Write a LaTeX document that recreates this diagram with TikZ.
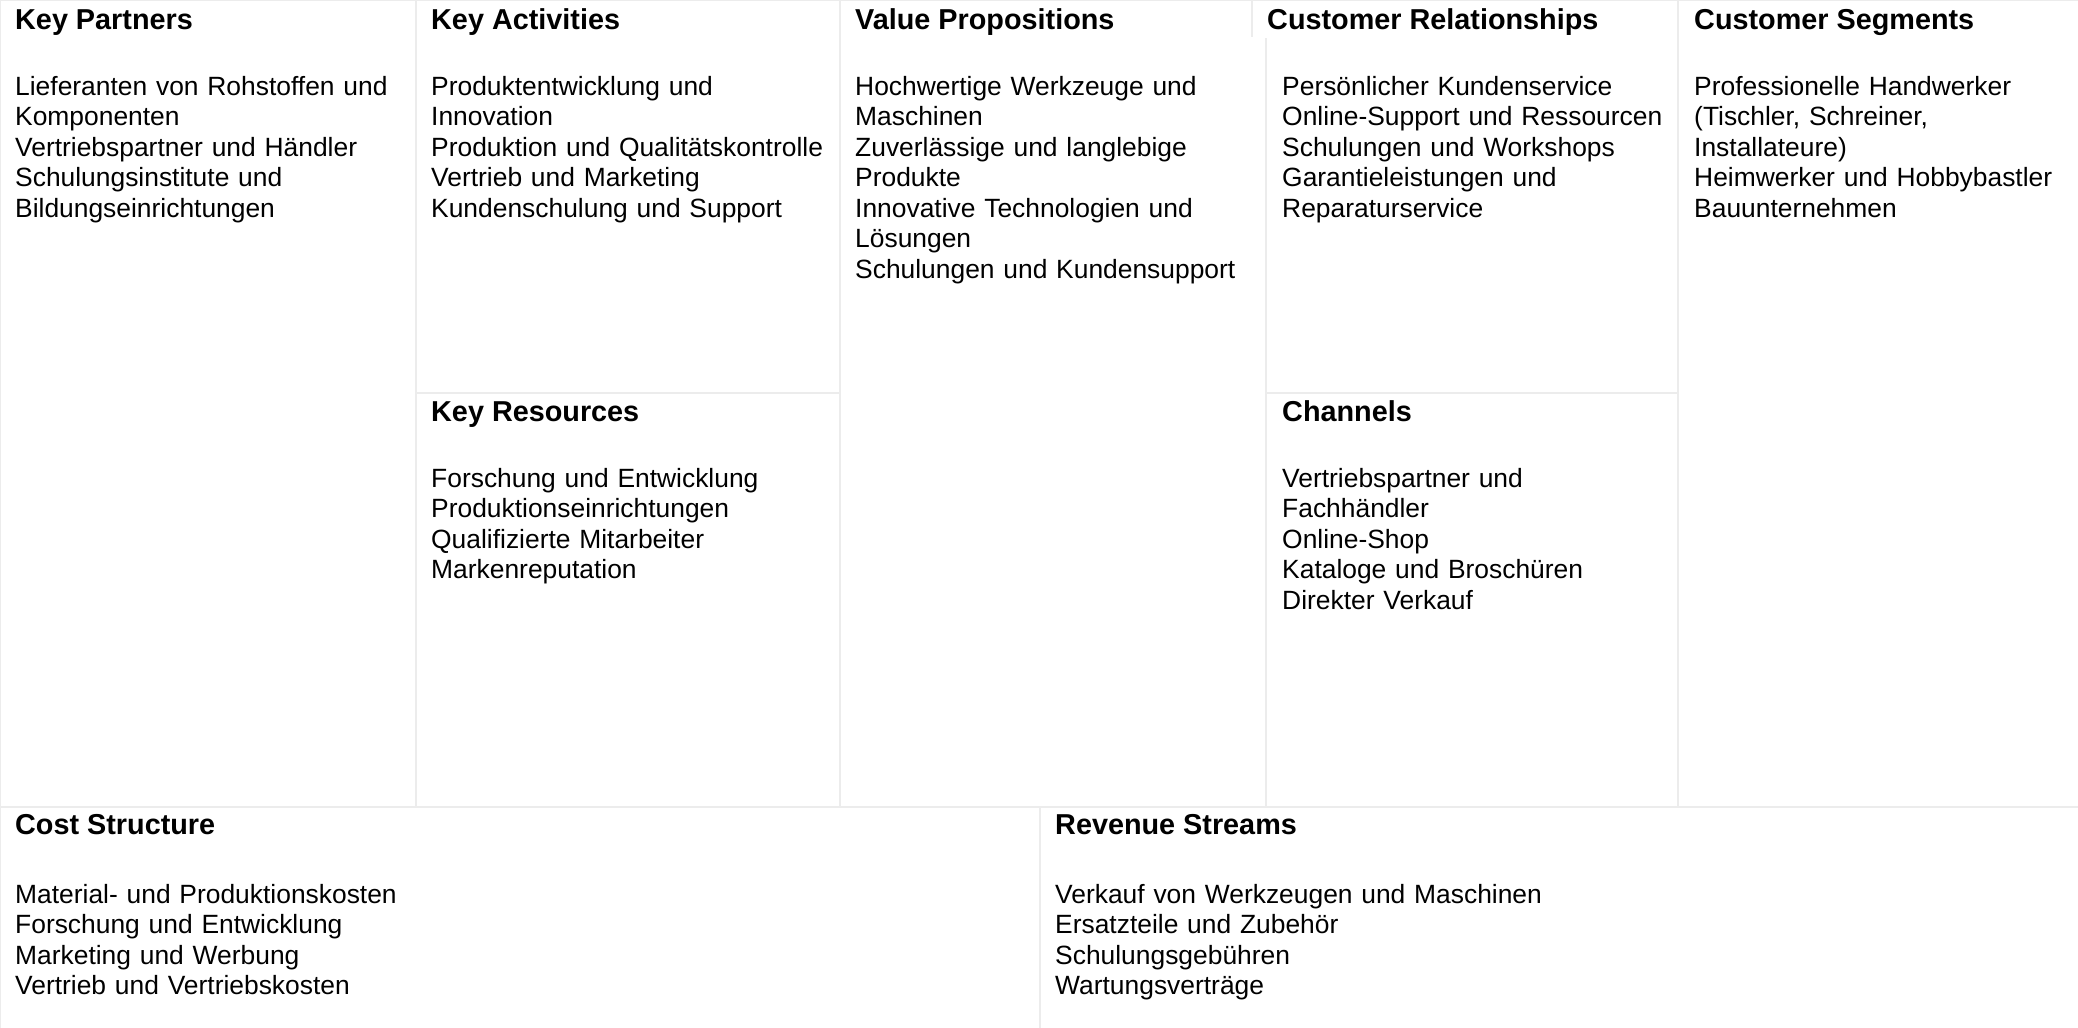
\documentclass[tikz,border=0pt]{standalone}
\usepackage{fontspec}
\setmainfont{Liberation Sans}
\definecolor{gridline}{RGB}{236,236,236}
\begin{document}
\begin{tikzpicture}[x=1pt,y=-1pt,
  cell/.style={draw=gridline,line width=2pt},
  heading/.style={anchor=base west,inner sep=0pt,font=\fontsize{28.8}{32}\selectfont\bfseries},
  entries/.style={anchor=base west,inner sep=0pt,text width=700pt,align=left,
    font=\fontsize{26.4}{30.5}\selectfont}]
\useasboundingbox[fill=white] (0,0) rectangle (2078,1028);

% grid of the canvas
\draw[cell] (0,1028) -- (0,0) -- (2078,0);
\draw[cell] (416,0) -- (416,807);
\draw[cell] (840,0) -- (840,807);
\draw[cell] (1252,0) -- (1252,37);
\draw[cell] (1266,38) -- (1266,807);
\draw[cell] (1678,0) -- (1678,807);
\draw[cell] (416,393) -- (840,393);
\draw[cell] (1266,393) -- (1678,393);
\draw[cell] (0,807) -- (2078,807);
\draw[cell] (1040,807) -- (1040,1028);

% Key Partners
\node[heading] (kpT) at (15,29) {Key Partners};
\node[entries] (kpB) at (15,95) {Lieferanten von Rohstoffen und\\Komponenten\\Vertriebspartner und Händler\\Schulungsinstitute und\\Bildungseinrichtungen};

% Key Activities
\node[heading] (kaT) at (431,29) {Key Activities};
\node[entries] (kaB) at (431,95) {Produktentwicklung und\\Innovation\\Produktion und Qualitätskontrolle\\Vertrieb und Marketing\\Kundenschulung und Support};

% Key Resources
\node[heading] (krT) at (431,421) {Key Resources};
\node[entries] (krB) at (431,487) {Forschung und Entwicklung\\Produktionseinrichtungen\\Qualifizierte Mitarbeiter\\Markenreputation};

% Value Propositions
\node[heading] (vpT) at (855,29) {Value Propositions};
\node[entries] (vpB) at (855,95) {Hochwertige Werkzeuge und\\Maschinen\\Zuverlässige und langlebige\\Produkte\\Innovative Technologien und\\Lösungen\\Schulungen und Kundensupport};

% Customer Relationships
\node[heading] (crT) at (1267,29) {Customer Relationships};
\node[entries] (crB) at (1282,95) {Persönlicher Kundenservice\\Online-Support und Ressourcen\\Schulungen und Workshops\\Garantieleistungen und\\Reparaturservice};

% Channels
\node[heading] (chT) at (1282,421) {Channels};
\node[entries] (chB) at (1282,487) {Vertriebspartner und\\Fachhändler\\Online-Shop\\Kataloge und Broschüren\\Direkter Verkauf};

% Customer Segments
\node[heading] (csT) at (1694,29) {Customer Segments};
\node[entries] (csB) at (1694,95) {Professionelle Handwerker\\(Tischler, Schreiner,\\Installateure)\\Heimwerker und Hobbybastler\\Bauunternehmen};

% Cost Structure
\node[heading] (coT) at (15,834) {Cost Structure};
\node[entries] (coB) at (15,903) {Material- und Produktionskosten\\Forschung und Entwicklung\\Marketing und Werbung\\Vertrieb und Vertriebskosten};

% Revenue Streams
\node[heading] (rsT) at (1055,834) {Revenue Streams};
\node[entries] (rsB) at (1055,903) {Verkauf von Werkzeugen und Maschinen\\Ersatzteile und Zubehör\\Schulungsgebühren\\Wartungsverträge};
\end{tikzpicture}
\end{document}
